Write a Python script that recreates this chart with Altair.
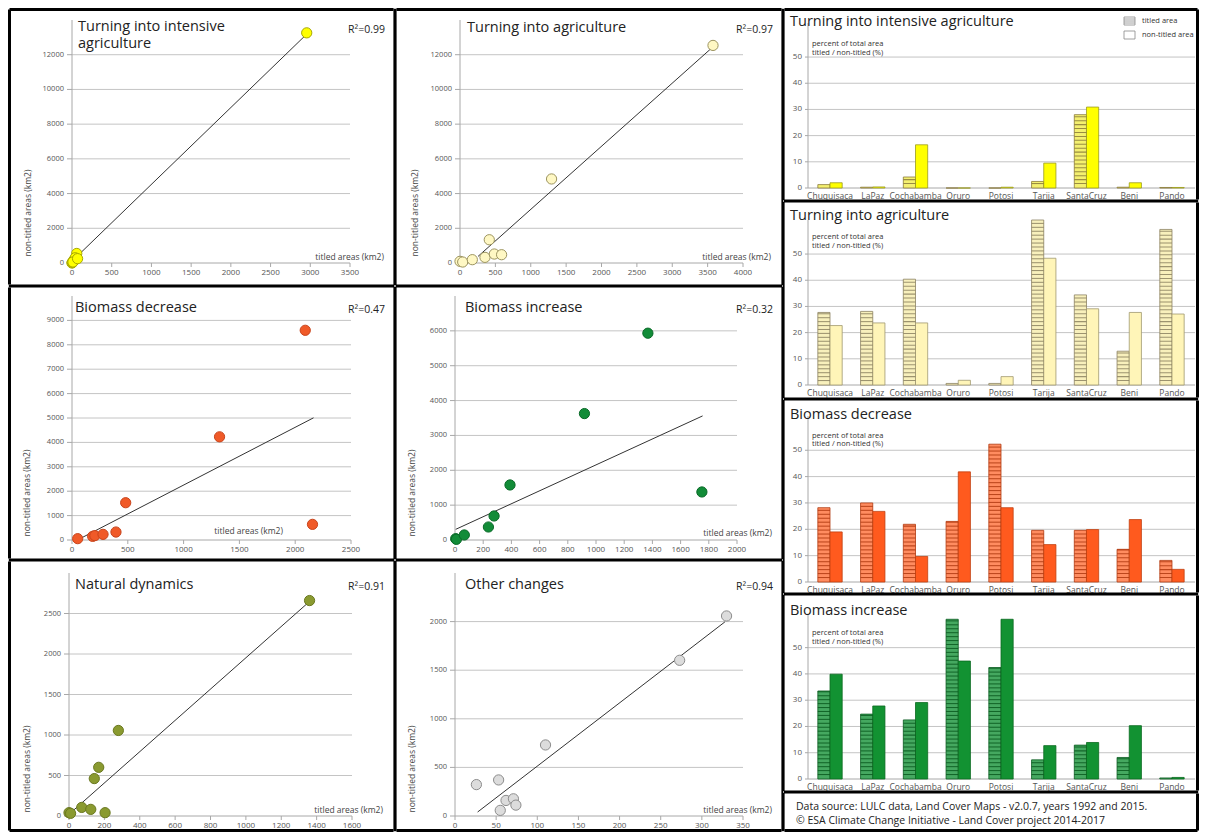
import altair as alt
import numpy as np
import pandas as pd

FONT = "Open Sans"
TXT = "#222222"
LAB = "#555555"
AXC = "#A8A8A8"
GRID = "#C4C4C4"
OUT = 3.0   # outer frame line width
INN = 1.6   # inner divider half width

# ---------------- data ----------------
depts = ["Chuquisaca", "LaPaz", "Cochabamba", "Oruro", "Potosi", "Tarija", "SantaCruz", "Beni", "Pando"]

# scatter panels: titled area (km2) vs non-titled area (km2)
ia_titled = [20, 3, 60, 0, 5, 40, 2955, 12, 70]
ia_nontitled = [150, 20, 550, 0, 30, 300, 13260, 60, 250]
ia_trend_x = [63, 2947]
ia_trend_y = [383, 13150]

ag_titled = [0, 38, 174, 414, 353, 485, 588, 1294, 3576]
ag_nontitled = [96, 57, 191, 1340, 325, 517, 478, 4842, 12536]
ag_trend_x = [255, 3550]
ag_trend_y = [380, 12360]

bd_titled = [51, 185, 205, 278, 394, 481, 1322, 2090, 2155]
bd_nontitled = [55, 150, 180, 232, 327, 1528, 4229, 8595, 641]
bd_trend_x = [60, 2164]
bd_trend_y = [27, 5007]

bi_titled = [5, 10, 66, 237, 277, 390, 918, 1368, 1751]
bi_nontitled = [38, 20, 144, 373, 689, 1579, 3627, 5933, 1378]
bi_trend_x = [5, 1756]
bi_trend_y = [306, 3560]

nd_titled = [0, 9, 72, 123, 143, 168, 204, 279, 1360]
nd_nontitled = [41, 33, 106, 82, 462, 601, 41, 1056, 2660]
nd_trend_x = [6, 1355]
nd_trend_y = [33, 2639]

oc_titled = [26, 53, 62, 71, 74, 55, 110, 273, 330]
oc_nontitled = [323, 371, 160, 177, 112, 58, 731, 1602, 2058]
oc_trend_x = [27.5, 328]
oc_trend_y = [41, 1997]

# bar panels: percent of total area, titled / non-titled
b_ia_titled = [1.3, 0.3, 4.2, 0.0, 0.0, 2.5, 28.0, 0.3, 0.2]
b_ia_nontitled = [2.0, 0.4, 16.5, 0.0, 0.3, 9.5, 30.9, 2.0, 0.2]

b_ag_titled = [27.7, 28.1, 40.4, 0.6, 0.6, 63.0, 34.4, 12.9, 59.4]
b_ag_nontitled = [22.7, 23.7, 23.7, 1.8, 3.2, 48.4, 29.1, 27.7, 27.1]

b_bd_titled = [28.2, 30.0, 21.9, 23.0, 52.3, 19.6, 19.6, 12.4, 8.2]
b_bd_nontitled = [19.0, 26.8, 9.7, 41.8, 28.2, 14.2, 19.9, 23.7, 4.8]

b_bi_titled = [33.5, 24.7, 22.5, 60.8, 42.4, 7.3, 12.9, 8.2, 0.4]
b_bi_nontitled = [39.9, 27.8, 29.1, 44.9, 60.8, 12.7, 13.9, 20.3, 0.6]

bar_ticks = [0, 10, 20, 30, 40, 50]


# ---------------- helpers ----------------
def label(s, x, y, size, align="left", baseline="middle", angle=0, color=TXT, lh=None):
    kw = dict(align=align, baseline=baseline, fontSize=size, font=FONT, color=color,
              lineBreak="\n")
    if angle:
        kw["angle"] = angle
    if lh:
        kw["lineHeight"] = lh
    return alt.Chart(pd.DataFrame({"s": [s]})).mark_text(**kw).encode(
        x=alt.value(x), y=alt.value(y), text="s:N")


def frame(W, H, t, r, b, l):
    """Panel border drawn inside the view (kept within its bounds): one rule per side."""
    one = pd.DataFrame({"a": [0]})
    out = []
    out.append(alt.Chart(one).mark_rule(color="black", strokeWidth=t).encode(
        y=alt.value(t / 2), x=alt.value(t / 2), x2=alt.value(W - t / 2)))
    out.append(alt.Chart(one).mark_rule(color="black", strokeWidth=b).encode(
        y=alt.value(H - b / 2), x=alt.value(b / 2), x2=alt.value(W - b / 2)))
    out.append(alt.Chart(one).mark_rule(color="black", strokeWidth=l).encode(
        x=alt.value(l / 2), y=alt.value(l / 2), y2=alt.value(H - l / 2)))
    out.append(alt.Chart(one).mark_rule(color="black", strokeWidth=r).encode(
        x=alt.value(W - r / 2), y=alt.value(r / 2), y2=alt.value(H - r / 2)))
    return out


def scatter(W, H, sides, tx, ny, trx, tr_y, xdom, xstep, xr, ydom, ystep, ytop, yr,
            fill, stroke, title, r2, title_xy, r2_xy, xt_xy, yt_xy, title_top=False):
    xticks = list(range(0, xdom[1] + 1, xstep))
    yticks = list(range(0, ytop + 1, ystep))
    xsc = alt.Scale(domain=xdom, range=xr, nice=False, zero=False)
    ysc = alt.Scale(domain=ydom, range=yr, nice=False, zero=False)

    def X(f):
        return alt.X(f, scale=xsc, axis=None)

    def Y(f):
        return alt.Y(f, scale=ysc, axis=None)

    ng = len(yticks) - 1
    gdf = pd.DataFrame({"g": yticks[1:], "a": [xdom[0]] * ng, "b": [xticks[-1]] * ng})
    grid = alt.Chart(gdf).mark_rule(color=GRID, strokeWidth=1).encode(
        x=X("a:Q"), x2="b:Q", y=Y("g:Q"))
    dom = pd.DataFrame({"z": [0], "xm": [xticks[-1]], "ym": [ydom[1]]})
    xdomain = alt.Chart(dom).mark_rule(color=AXC, strokeWidth=1).encode(
        x=X("z:Q"), x2="xm:Q", y=Y("z:Q"))
    ydomain = alt.Chart(dom).mark_rule(color=AXC, strokeWidth=1).encode(
        x=X("z:Q"), y=Y("z:Q"), y2="ym:Q")
    xtdf = pd.DataFrame({"v": xticks, "s": [str(t) for t in xticks]})
    ytdf = pd.DataFrame({"v": yticks, "s": [str(t) for t in yticks]})
    xtk = alt.Chart(xtdf).mark_rule(color=AXC, strokeWidth=1).encode(
        x=X("v:Q"), y=alt.value(yr[0]), y2=alt.value(yr[0] + 4))
    ytk = alt.Chart(ytdf).mark_rule(color=AXC, strokeWidth=1).encode(
        y=Y("v:Q"), x=alt.value(xr[0] - 5), x2=alt.value(xr[0]))
    xlab = alt.Chart(xtdf).mark_text(font=FONT, fontSize=8, color=LAB, align="center",
                                     baseline="top").encode(
        x=X("v:Q"), y=alt.value(yr[0] + 6), text="s:N")
    ylab = alt.Chart(ytdf).mark_text(font=FONT, fontSize=7.5, color=LAB, align="right",
                                     baseline="middle").encode(
        y=Y("v:Q"), x=alt.value(xr[0] - 8), text="s:N")
    trend = alt.Chart(pd.DataFrame({"tx": trx, "ny": tr_y})).mark_line(
        color="#333333", strokeWidth=1).encode(x=X("tx:Q"), y=Y("ny:Q"))
    pts = alt.Chart(pd.DataFrame({"tx": tx, "ny": ny})).mark_circle(
        size=105, opacity=1, fill=fill, stroke=stroke, strokeWidth=1).encode(
        x=X("tx:Q"), y=Y("ny:Q"))
    if title_top:
        t = label(title, title_xy[0], title_xy[1], 14.5, baseline="top", lh=17)
    else:
        t = label(title, title_xy[0], title_xy[1], 14.5)
    r = label(r2, r2_xy[0], r2_xy[1], 10.5, align="right")
    xt = label("titled areas (km2)", xt_xy[0], xt_xy[1], 8.5, align="right", color="#444444")
    yt = label("non-titled areas (km2)", yt_xy[0], yt_xy[1], 8.5, align="center", angle=270,
               color="#444444")
    return alt.layer(grid, xdomain, ydomain, xtk, ytk, xlab, ylab, trend, pts,
                     t, r, xt, yt, *frame(W, H, *sides)).properties(width=W, height=H)


def bars(W, H, sides, titled, nontitled, yr, tfill, stripe, nfill, bstroke, title, title_y,
         sub_y, legend=False):
    kinds = ["titled", "non-titled"]
    n = len(depts)
    df = pd.DataFrame({"dept": depts + depts,
                       "kind": ["titled"] * n + ["non-titled"] * n,
                       "pct": titled + nontitled,
                       "fc": [tfill] * n + [nfill] * n,
                       "sc": [stripe] * n + [bstroke] * n})
    xsc = alt.Scale(domain=depts, range=[25, 411], paddingInner=0.43, paddingOuter=0.23)
    osc = alt.Scale(domain=kinds, paddingInner=0, paddingOuter=0)
    ysc = alt.Scale(domain=[0, 63], range=yr, nice=False, zero=True)

    def Y(f):
        return alt.Y(f, scale=ysc, axis=None)

    gdf = pd.DataFrame({"g": bar_ticks[1:]})
    grid = alt.Chart(gdf).mark_rule(color=GRID, strokeWidth=1).encode(
        y=Y("g:Q"), x=alt.value(25), x2=alt.value(412))
    dom = pd.DataFrame({"z": [0], "m": [63]})
    xdomain = alt.Chart(dom).mark_rule(color=AXC, strokeWidth=1).encode(
        y=Y("z:Q"), x=alt.value(25), x2=alt.value(412))
    ydomain = alt.Chart(dom).mark_rule(color=AXC, strokeWidth=1).encode(
        y=Y("z:Q"), y2="m:Q", x=alt.value(25))
    ytdf = pd.DataFrame({"v": bar_ticks, "s": [str(t) for t in bar_ticks]})
    ytk = alt.Chart(ytdf).mark_rule(color=AXC, strokeWidth=1).encode(
        y=Y("v:Q"), x=alt.value(22), x2=alt.value(25))
    ylab = alt.Chart(ytdf).mark_text(font=FONT, fontSize=8, color=LAB, align="right",
                                     baseline="middle").encode(
        y=Y("v:Q"), x=alt.value(19), text="s:N")
    xlab = alt.Chart(pd.DataFrame({"dept": depts})).mark_text(
        font=FONT, fontSize=8.5, color=LAB, align="center", baseline="top").encode(
        x=alt.X("dept:N", scale=xsc, sort=depts, axis=None),
        y=alt.value(yr[0] + 4), text="dept:N")
    b = alt.Chart(df).mark_bar(strokeWidth=0.8).encode(
        x=alt.X("dept:N", scale=xsc, sort=depts, axis=None),
        xOffset=alt.XOffset("kind:N", scale=osc, sort=kinds),
        y=Y("pct:Q"),
        fill=alt.Fill("fc:N", scale=None),
        stroke=alt.Stroke("sc:N", scale=None))
    rows = []
    for d, v in zip(depts, titled):
        for s in np.arange(1.5, v - 0.3, 1.5):
            rows.append({"dept": d, "kind": "titled", "y0": float(s), "y1": float(s) + 0.4})
    sdf = pd.DataFrame(rows)
    st = alt.Chart(sdf).mark_bar(color=stripe, opacity=0.85).encode(
        x=alt.X("dept:N", scale=xsc, sort=depts, axis=None),
        xOffset=alt.XOffset("kind:N", scale=osc, sort=kinds),
        y=Y("y0:Q"), y2="y1:Q")
    layers = [grid, xdomain, ydomain, ytk, ylab, xlab, b, st,
              label(title, 7, title_y, 14.5),
              label("percent of total area", 29, sub_y[0], 7.5, color="#333333"),
              label("titled / non-titled (%)", 29, sub_y[1], 7.5, color="#333333")]
    if legend:
        one = pd.DataFrame({"a": [0]})
        box1 = alt.Chart(one).mark_rect(fill="#FFFFFF", stroke="#888888", strokeWidth=0.8).encode(
            x=alt.value(341), x2=alt.value(352), y=alt.value(9), y2=alt.value(17))
        box1s = alt.Chart(pd.DataFrame({"py": [11, 13, 15]})).mark_rule(
            color="#888888", strokeWidth=0.8).encode(
            y=alt.Y("py:Q", scale=None), x=alt.value(341), x2=alt.value(352))
        box2 = alt.Chart(one).mark_rect(fill="#FFFFFF", stroke="#888888", strokeWidth=0.8).encode(
            x=alt.value(341), x2=alt.value(352), y=alt.value(23), y2=alt.value(31))
        layers += [box1, box1s, box2,
                   label("titled area", 359, 13, 7.5, color="#333333"),
                   label("non-titled area", 359, 27, 7.5, color="#333333")]
    layers += frame(W, H, *sides)
    return alt.layer(*layers).properties(width=W, height=H)


# ---------------- panels ----------------
# sides: (top, right, bottom, left) border widths
p1 = scatter(387, 278, (OUT, INN, INN, OUT), ia_titled, ia_nontitled, ia_trend_x, ia_trend_y,
             [0, 3500], 500, [64, 342], [0, 14000], 2000, 12000, [255, 12],
             "#FFFF00", "#A8A800", "Turning into intensive\nagriculture", "R²=0.99",
             (70, 12), (377, 22), (376, 249), (20, 205), title_top=True)
p2 = scatter(388, 278, (OUT, INN, INN, INN), ag_titled, ag_nontitled, ag_trend_x, ag_trend_y,
             [0, 4000], 500, [65, 348], [0, 14000], 2000, 12000, [255, 12],
             "#FFF8C4", "#9C9460", "Turning into agriculture", "R²=0.97",
             (72, 20), (378, 22), (376, 249), (20, 205))
p3 = scatter(387, 274, (INN, INN, INN, OUT), bd_titled, bd_nontitled, bd_trend_x, bd_trend_y,
             [0, 2500], 500, [64, 343], [0, 10000], 1000, 9000, [254, 10],
             "#F05A28", "#C8441C", "Biomass decrease", "R²=0.47",
             (67, 22), (377, 24), (275, 245), (19, 207))
p4 = scatter(388, 274, (INN, INN, INN, INN), bi_titled, bi_nontitled, bi_trend_x, bi_trend_y,
             [0, 2000], 200, [60, 342], [0, 7000], 1000, 6000, [254, 10],
             "#128C38", "#0A6A28", "Biomass increase", "R²=0.32",
             (70, 22), (378, 24), (377, 247), (17, 207))
p5 = scatter(387, 272, (INN, INN, OUT, OUT), nd_titled, nd_nontitled, nd_trend_x, nd_trend_y,
             [0, 1600], 200, [61, 344], [0, 3000], 500, 2500, [256, 13],
             "#8A9A30", "#6A7820", "Natural dynamics", "R²=0.91",
             (67, 25), (377, 27), (375, 250), (19, 209))
p6 = scatter(388, 272, (INN, INN, OUT, INN), oc_titled, oc_nontitled, oc_trend_x, oc_trend_y,
             [0, 350], 50, [60, 348], [0, 2500], 500, 2000, [256, 13],
             "#DCDCDC", "#8C8C8C", "Other changes", "R²=0.94",
             (70, 25), (378, 27), (377, 250), (17, 209))

b1 = bars(416, 193, (OUT, OUT, INN, INN), b_ia_titled, b_ia_nontitled, [180, 15], "#F4F070",
          "#8A7A3A", "#FFFF00", "#9A9A20", "Turning into intensive agriculture", 14, (36, 45),
          legend=True)
b2 = bars(416, 198, (INN, OUT, INN, INN), b_ag_titled, b_ag_nontitled, [184, 19], "#F8F0BC",
          "#8C8262", "#FFF5B8", "#A09870", "Turning into agriculture", 15, (36, 45))
b3 = bars(416, 195, (INN, OUT, INN, INN), b_bd_titled, b_bd_nontitled, [183, 17], "#FF8C60",
          "#B03A10", "#FF5A1E", "#C04010", "Biomass decrease", 16, (37, 45))
b4 = bars(416, 198, (INN, OUT, INN, INN), b_bi_titled, b_bi_nontitled, [185, 19.5], "#45A860",
          "#0A5A20", "#129232", "#0A6A20", "Biomass increase", 17, (39, 48))

src = alt.layer(
    label("Data source: LULC data, Land Cover Maps - v2.0.7, years 1992 and 2015.", 13, 15, 10.5),
    label("© ESA Climate Change Initiative - Land Cover project 2014-2017", 13, 29, 10.5),
    *frame(416, 40, INN, OUT, OUT, INN)
).properties(width=416, height=40)

left = alt.vconcat(p1, p3, p5, spacing=0, bounds="flush")
mid = alt.vconcat(p2, p4, p6, spacing=0, bounds="flush")
right = alt.vconcat(b1, b2, b3, b4, src, spacing=0, bounds="flush")

chart = alt.hconcat(left, mid, right, spacing=0).properties(
    padding=0, background="white"
).configure_view(strokeWidth=0)

chart.save("out.html", embed_options={"renderer": "svg", "actions": False})
